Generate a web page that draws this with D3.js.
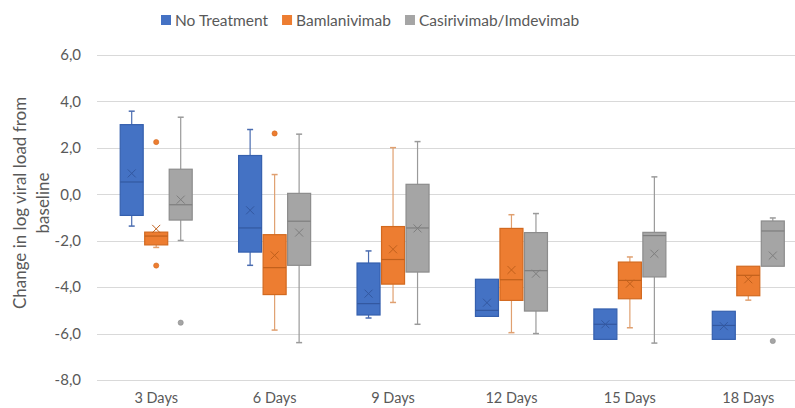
<!DOCTYPE html>
<html>
<head>
<meta charset="utf-8">
<script src="https://cdn.jsdelivr.net/npm/d3@7"></script>
<style>
  html, body { margin: 0; padding: 0; background: #ffffff; }
  svg { display: block; }
  text { font-family: Lato, "Open Sans", sans-serif; }
</style>
</head>
<body>
<svg id="chart" width="795" height="408"></svg>
<script>
// ---------- DATA ----------
const categories = ["3 Days", "6 Days", "9 Days", "12 Days", "15 Days", "18 Days"];
const seriesNames = ["No Treatment", "Bamlanivimab", "Casirivimab/Imdevimab"];
const yTicks = [-8, -6, -4, -2, 0, 2, 4, 6];

// No Treatment
const noTreatMin    = [-1.37, -3.06, -5.33, -5.26, -6.25, -6.25];
const noTreatQ1     = [-0.91, -2.49, -5.20, -5.26, -6.25, -6.25];
const noTreatMedian = [ 0.53, -1.45, -4.71, -5.00, -5.60, -5.65];
const noTreatQ3     = [ 3.00,  1.67, -2.96, -3.66, -4.94, -5.04];
const noTreatMax    = [ 3.58,  2.79, -2.44, -3.66, -4.94, -5.04];
const noTreatMean   = [ 0.90, -0.69, -4.28, -4.67, -5.60, -5.68];
const noTreatOut    = [[], [], [], [], [], []];

// Bamlanivimab
const bamMin    = [-2.29, -5.85, -4.66, -5.96, -5.75, -4.56];
const bamQ1     = [-2.18, -4.32, -3.87, -4.57, -4.50, -4.37];
const bamMedian = [-1.80, -3.16, -2.81, -3.68, -3.71, -3.49];
const bamQ3     = [-1.63, -1.74, -1.39, -1.47, -2.92, -3.10];
const bamMax    = [-1.63,  0.85,  2.01, -0.88, -2.70, -3.10];
const bamMean   = [-1.49, -2.63, -2.37, -3.26, -3.85, -3.66];
const bamOut    = [[2.25, -3.07], [2.62], [], [], [], []];

// Casirivimab/Imdevimab
const casMin    = [-1.99, -6.39, -5.60, -6.00, -6.41, -3.10];
const casQ1     = [-1.11, -3.06, -3.35, -5.03, -3.56, -3.10];
const casMedian = [-0.45, -1.16, -1.45, -3.29, -1.78, -1.58];
const casQ3     = [ 1.08,  0.04,  0.43, -1.65, -1.64, -1.15];
const casMax    = [ 3.32,  2.59,  2.27, -0.83,  0.75, -1.02];
const casMean   = [-0.23, -1.65, -1.47, -3.42, -2.56, -2.64];
const casOut    = [[-5.53], [], [], [], [], [-6.32]];

// ---------- STYLES ----------
const fills   = ["#4472C4", "#ED7D31", "#A5A5A5"];
const strokes = ["#3560AE", "#D2691F", "#8C8C8C"];
const whiskerCol = ["#4A6CB0", "#E0A070", "#9A9A9A"];
const meanCol = ["#3358A0", "#C0601C", "#7E7E7E"];

// build table from arrays
const seriesData = [
  {min: noTreatMin, q1: noTreatQ1, med: noTreatMedian, q3: noTreatQ3, max: noTreatMax, mean: noTreatMean, out: noTreatOut},
  {min: bamMin, q1: bamQ1, med: bamMedian, q3: bamQ3, max: bamMax, mean: bamMean, out: bamOut},
  {min: casMin, q1: casQ1, med: casMedian, q3: casQ3, max: casMax, mean: casMean, out: casOut}
];
const boxes = [];
seriesData.forEach((s, si) => {
  categories.forEach((c, ci) => {
    boxes.push({cat: c, series: seriesNames[si], si,
      min: s.min[ci], q1: s.q1[ci], med: s.med[ci], q3: s.q3[ci], max: s.max[ci], mean: s.mean[ci], out: s.out[ci]});
  });
});

// ---------- LAYOUT ----------
const svg = d3.select("#chart");
const W = 795, H = 408;
const plotLeft = 97, plotRight = 807.5, plotTop = 55, plotBottom = 380;

const x = d3.scaleBand().domain(categories).range([plotLeft, plotRight]).padding(0);
const y = d3.scaleLinear().domain([-8, 6]).range([plotBottom, plotTop]);
const groupHalf = 36.75;
const xSub = d3.scaleBand().domain(seriesNames)
  .range([x.bandwidth() / 2 - groupHalf, x.bandwidth() / 2 + groupHalf])
  .paddingInner(0.061).paddingOuter(0.0305);

// gridlines
svg.append("g").selectAll("line").data(yTicks).join("line")
  .attr("x1", plotLeft).attr("x2", W)
  .attr("y1", d => Math.round(y(d)) + 0.5).attr("y2", d => Math.round(y(d)) + 0.5)
  .attr("stroke", "#D9D9D9").attr("stroke-width", 1);

// y axis labels
const fmt = d => d3.format(".1f")(d).replace(".", ",").replace("−", "-");
const yAxis = d3.axisLeft(y).tickValues(yTicks).tickFormat(fmt).tickSize(0).tickPadding(0);
const yg = svg.append("g").attr("transform", `translate(${81},0)`).call(yAxis);
yg.select(".domain").remove();
yg.selectAll("text").attr("font-size", 15).attr("fill", "#595959")
  .attr("font-family", "Lato, 'Open Sans', sans-serif");

// x axis labels
const xAxis = d3.axisBottom(x).tickSize(0).tickPadding(0);
const xg = svg.append("g").attr("transform", `translate(0,${393})`).call(xAxis);
xg.select(".domain").remove();
xg.selectAll("text").attr("font-size", 14.5).attr("fill", "#595959")
  .attr("font-family", "Lato, 'Open Sans', sans-serif");

// y title
const yTitle = svg.append("text")
  .attr("transform", `translate(0,203) rotate(-90)`)
  .attr("text-anchor", "middle").attr("fill", "#595959").attr("font-size", 17);
yTitle.append("tspan").attr("x", 0).attr("y", 26).text("Change in log viral load from");
yTitle.append("tspan").attr("x", 0).attr("y", 49).text("baseline");

// boxes
const bw = xSub.bandwidth();
const capW = 6;
const g = svg.append("g");
const bg = g.selectAll("g.box").data(boxes).join("g")
  .attr("class", "box")
  .attr("transform", d => `translate(${x(d.cat) + xSub(d.series)},0)`);

// whiskers
bg.append("line")
  .attr("x1", bw / 2).attr("x2", bw / 2)
  .attr("y1", d => y(d.max)).attr("y2", d => y(d.q3))
  .attr("stroke", d => whiskerCol[d.si]).attr("stroke-width", 1.2);
bg.append("line")
  .attr("x1", bw / 2).attr("x2", bw / 2)
  .attr("y1", d => y(d.q1)).attr("y2", d => y(d.min))
  .attr("stroke", d => whiskerCol[d.si]).attr("stroke-width", 1.2);
bg.filter(d => d.max > d.q3).append("line")
  .attr("x1", bw / 2 - capW / 2).attr("x2", bw / 2 + capW / 2)
  .attr("y1", d => y(d.max)).attr("y2", d => y(d.max))
  .attr("stroke", d => whiskerCol[d.si]).attr("stroke-width", 1.5);
bg.filter(d => d.min < d.q1).append("line")
  .attr("x1", bw / 2 - capW / 2).attr("x2", bw / 2 + capW / 2)
  .attr("y1", d => y(d.min)).attr("y2", d => y(d.min))
  .attr("stroke", d => whiskerCol[d.si]).attr("stroke-width", 1.5);

// box
bg.append("rect")
  .attr("x", 0).attr("width", bw)
  .attr("y", d => y(d.q3)).attr("height", d => y(d.q1) - y(d.q3))
  .attr("fill", d => fills[d.si]).attr("stroke", d => strokes[d.si]).attr("stroke-width", 1.2);

// median
bg.append("line")
  .attr("x1", 0).attr("x2", bw)
  .attr("y1", d => y(d.med)).attr("y2", d => y(d.med))
  .attr("stroke", d => meanCol[d.si]).attr("stroke-width", 1.2);

// mean X
const mx = 4;
bg.append("path")
  .attr("d", d => {
    const cx = bw / 2, cy = y(d.mean);
    return `M${cx - mx},${cy - mx}L${cx + mx},${cy + mx}M${cx - mx},${cy + mx}L${cx + mx},${cy - mx}`;
  })
  .attr("stroke", d => meanCol[d.si]).attr("stroke-width", 1).attr("fill", "none");

// outliers
bg.selectAll("circle").data(d => d.out.map(v => ({v, si: d.si}))).join("circle")
  .attr("cx", bw / 2).attr("cy", d => y(d.v)).attr("r", 2.6)
  .attr("fill", d => fills[d.si]).attr("stroke", d => strokes[d.si]).attr("stroke-width", 0.6);

// legend
const legend = svg.append("g");
let lx = 161;
seriesNames.forEach((name, i) => {
  legend.append("rect").attr("x", lx).attr("y", 15).attr("width", 10).attr("height", 10)
    .attr("fill", fills[i]);
  const t = legend.append("text").attr("x", lx + 14).attr("y", 26)
    .attr("font-size", 15.5).attr("fill", "#595959").text(name);
  lx += 14 + t.node().getComputedTextLength() + 14;
});
</script>
</body>
</html>
